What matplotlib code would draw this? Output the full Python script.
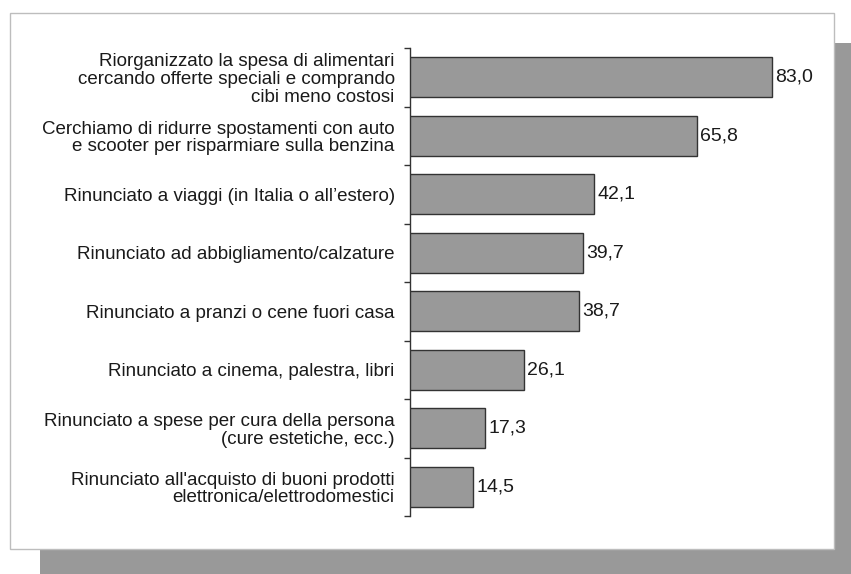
import matplotlib
matplotlib.use("Agg")
import matplotlib.pyplot as plt
from matplotlib.patches import Rectangle
import numpy as np

categories = [
    "Riorganizzato la spesa di alimentari\ncercando offerte speciali e comprando\ncibi meno costosi",
    "Cerchiamo di ridurre spostamenti con auto\ne scooter per risparmiare sulla benzina",
    "Rinunciato a viaggi (in Italia o all\u2019estero)",
    "Rinunciato ad abbigliamento/calzature",
    "Rinunciato a pranzi o cene fuori casa",
    "Rinunciato a cinema, palestra, libri",
    "Rinunciato a spese per cura della persona\n(cure estetiche, ecc.)",
    "Rinunciato all'acquisto di buoni prodotti\nelettronica/elettrodomestici",
]
values = [83.0, 65.8, 42.1, 39.7, 38.7, 26.1, 17.3, 14.5]
value_labels = ["83,0", "65,8", "42,1", "39,7", "38,7", "26,1", "17,3", "14,5"]

plt.rcParams['font.family'] = ['Liberation Sans', 'DejaVu Sans']

W, H = 851, 574
fig = plt.figure(figsize=(W / 100, H / 100), dpi=100)
fig.patch.set_facecolor('white')

# shadow and panel
fig.patches.append(Rectangle((40 / W, 0), 1 - 40 / W, 1 - 43 / H, transform=fig.transFigure,
                             facecolor='#999999', edgecolor='none', zorder=-2))
fig.patches.append(Rectangle((10 / W, 1 - 549 / H), (834 - 10) / W, (549 - 13) / H,
                             transform=fig.transFigure, facecolor='white',
                             edgecolor='#bdbdbd', linewidth=1, zorder=-1))

ax = fig.add_axes([410 / W, 1 - 516 / H, (834 - 410) / W, (516 - 48) / H])
ax.set_zorder(2)
ax.set_facecolor('none')
n = len(values)
y = np.arange(n)
ax.barh(y, values, height=0.68, color='#999999', edgecolor='#333333', linewidth=1.0, zorder=3)
ax.set_ylim(n - 0.5, -0.5)
ax.set_xlim(0, 424 / 4.36)

for yi, v, lab in zip(y, values, value_labels):
    ax.text(v + 0.8, yi, lab, va='center', ha='left', fontsize=14, color='#1a1a1a')

for s in ['top', 'right', 'bottom']:
    ax.spines[s].set_visible(False)
ax.spines['left'].set_color('#333333')
ax.spines['left'].set_linewidth(1.0)
ax.set_xticks([])
ax.set_yticks(y)
ax.set_yticklabels(categories, fontsize=13.5, color='#1a1a1a', ha='right', linespacing=1.05)
ax.tick_params(axis='y', which='major', length=0, pad=11)
ax.set_yticks(np.arange(-0.5, n, 1.0), minor=True)
ax.tick_params(axis='y', which='minor', length=4, width=1.0, color='#333333', direction='out')

fig.savefig('out.png', dpi=100)
